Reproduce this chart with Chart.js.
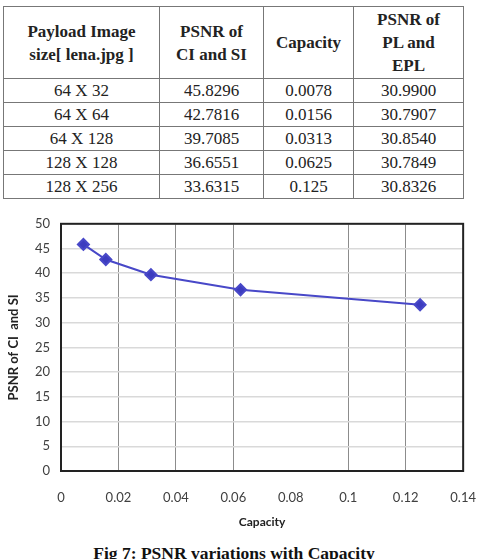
<!DOCTYPE html>
<html>
<head>
<meta charset="utf-8">
<script src="https://cdn.jsdelivr.net/npm/chart.js@4.4.1/dist/chart.umd.min.js"></script>
<style>
  html, body { margin: 0; padding: 0; background: #fff; }
  body { width: 495px; height: 559px; position: relative; overflow: hidden; }
  table {
    position: absolute; left: 3px; top: 6px; width: 460px;
    border-collapse: collapse; table-layout: fixed;
  }
  td, th {
    border: 1.5px solid #777; text-align: center; padding: 0;
    font-family: "Liberation Serif", "Times New Roman", serif; font-size: 17px; color: #222;
  }
  th { font-weight: bold; line-height: 23px; height: 71px; }
  td { height: 23px; line-height: 23px; }
  #wrap { position: absolute; left: 0; top: 205px; width: 495px; height: 330px; }
  #caption {
    position: absolute; left: 0; width: 468px; top: 543px; text-align: center;
    font-family: "Liberation Serif", "Times New Roman", serif; font-weight: bold; font-size: 17.5px; color: #111;
  }
</style>
</head>
<body>
<table id="tbl">
  <colgroup><col style="width:156px"><col style="width:104px"><col style="width:90px"><col style="width:110px"></colgroup>
  <thead></thead>
  <tbody></tbody>
</table>
<div id="wrap"><canvas id="chart"></canvas></div>
<div id="caption">Fig 7: PSNR variations with Capacity</div>
<script>
  // table + chart values
  var headers = ['Payload Image<br>size[ lena.jpg ]', 'PSNR of<br>CI and SI', 'Capacity', 'PSNR of<br>PL and<br>EPL'];
  var sizes = ['64 X 32', '64 X 64', '64 X 128', '128 X 128', '128 X 256'];
  var psnrCiSi = [45.8296, 42.7816, 39.7085, 36.6551, 33.6315];
  var capacityText = ['0.0078', '0.0156', '0.0313', '0.0625', '0.125'];
  var capacity = [0.0078, 0.0156, 0.0313, 0.0625, 0.125];
  var psnrPlEpl = ['30.9900', '30.7907', '30.8540', '30.7849', '30.8326'];

  var tbl = document.getElementById('tbl');
  tbl.tHead.innerHTML = '<tr>' + headers.map(function (h) { return '<th>' + h + '</th>'; }).join('') + '</tr>';
  tbl.tBodies[0].innerHTML = sizes.map(function (s, i) {
    return '<tr><td>' + s + '</td><td>' + psnrCiSi[i].toFixed(4) + '</td><td>' +
      capacityText[i] + '</td><td>' + psnrPlEpl[i] + '</td></tr>';
  }).join('');

  var boxPlugin = {
    id: 'box',
    afterDraw: function (chart) {
      var a = chart.chartArea, ctx = chart.ctx;
      ctx.save();
      ctx.strokeStyle = '#222';
      ctx.lineWidth = 2;
      ctx.strokeRect(a.left, a.top, a.right - a.left, a.bottom - a.top);
      ctx.restore();
    }
  };

  var tickFont = { family: 'Lato, "Open Sans", sans-serif', size: 13 };
  var titleFont = { family: 'Lato, "Open Sans", sans-serif', size: 13, weight: 'bold' };

  new Chart(document.getElementById('chart').getContext('2d'), {
    type: 'line',
    data: {
      datasets: [{
        data: capacity.map(function (c, i) { return { x: c, y: psnrCiSi[i] }; }),
        borderColor: '#4848c8',
        backgroundColor: '#3c3cbf',
        borderWidth: 2,
        pointStyle: 'rectRot',
        pointRadius: 5.5,
        pointHoverRadius: 5.5,
        tension: 0
      }]
    },
    options: {
      responsive: true,
      maintainAspectRatio: false,
      animation: false,
      layout: { padding: { top: 18, left: 3, right: 25, bottom: 0 } },
      plugins: { legend: { display: false }, tooltip: { enabled: false } },
      scales: {
        x: {
          type: 'linear', min: 0, max: 0.14,
          ticks: {
            stepSize: 0.02, padding: 19, color: '#404040', font: tickFont, maxRotation: 0,
            callback: function (v) { return String(+v.toFixed(2)); }
          },
          grid: {
            drawTicks: false, lineWidth: 1,
            color: function (ctx) {
              var v = ctx.tick ? ctx.tick.value : 0;
              return Math.abs(v - 0.08) < 1e-9 ? 'rgba(0,0,0,0)' : '#8c8c8c';
            }
          },
          border: { display: false },
          title: { display: true, text: 'Capacity', color: '#222', font: { family: titleFont.family, size: 12, weight: 'bold' }, padding: { top: 4, bottom: 6 } },
          afterFit: function (s) { s.height = 64; }
        },
        y: {
          min: 0, max: 50,
          ticks: { stepSize: 5, padding: 11, color: '#404040', font: tickFont },
          grid: { drawTicks: false, color: '#d9d9d9', lineWidth: 1.5 },
          border: { display: false },
          title: { display: true, text: 'PSNR of CI  and SI', color: '#222', font: titleFont, padding: { top: 3, bottom: 4 } },
          afterFit: function (s) { s.width = 58; }
        }
      }
    },
    plugins: [boxPlugin]
  });
</script>
</body>
</html>
